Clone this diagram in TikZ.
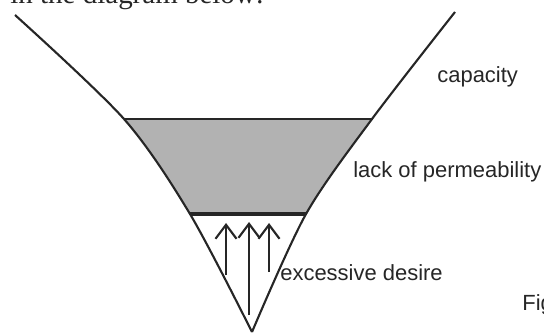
\documentclass[tikz,border=0pt]{standalone}
\usepackage{fontspec}
\setmainfont{Liberation Sans}
\newfontfamily\bookfont{Liberation Serif}
\usetikzlibrary{arrows.meta}

\begin{document}
\begin{tikzpicture}[x=0.02cm, y=-0.02cm,
	every node/.style={font=\fontsize{12.5}{15}\selectfont, text=black!85, inner sep=0pt},
	wall/.style={line width=1.2pt, draw=black!85},
	rim/.style={line width=1.5pt, draw=black!85},
	push/.style={line width=1.3pt, draw=black!85, -{Straight Barb[length=8pt, width=12pt, line width=1.2pt]}}]
	\useasboundingbox (0,0) rectangle (544,334);
	% shaded band between the walls
	\begin{scope}
		\clip plot[smooth] coordinates {(15,15) (124,119) (190,214) (252,332)} -- plot[smooth] coordinates {(252,332) (306,214) (372,119) (455,12)} -- cycle;
		\fill[black!30] (0,119) rectangle (544,214);
		\draw[rim] (0,119) -- (544,119);
		\draw[rim, line width=2pt] (0,214) -- (544,214);
	\end{scope}
	% the two walls
	\draw[wall] plot[smooth] coordinates {(15,15) (124,119) (190,214) (252,332)};
	\draw[wall] plot[smooth] coordinates {(252,332) (306,214) (372,119) (455,12)};
	% arrows pushing up
	\coordinate (foot1) at (226,275); \coordinate (head1) at (226,223);
	\coordinate (foot2) at (249,315); \coordinate (head2) at (249,222);
	\coordinate (foot3) at (269,272); \coordinate (head3) at (269,223);
	\draw[push] (foot1) -- (head1);
	\draw[push] (foot2) -- (head2);
	\draw[push] (foot3) -- (head3);
	% labels
	\node[anchor=base west] (capacity) at (437,83) {capacity};
	\node[anchor=base west] (permeability) at (353,178) {lack of permeability};
	\node[anchor=base west] (desire) at (280,280) {excessive desire};
	\node[anchor=base west] (figlabel) at (522,310) {Fig};
	\node[anchor=base west, font=\bookfont\fontsize{16.5}{20}\selectfont] (intro) at (10,4) {in the diagram below:};
\end{tikzpicture}
\end{document}
